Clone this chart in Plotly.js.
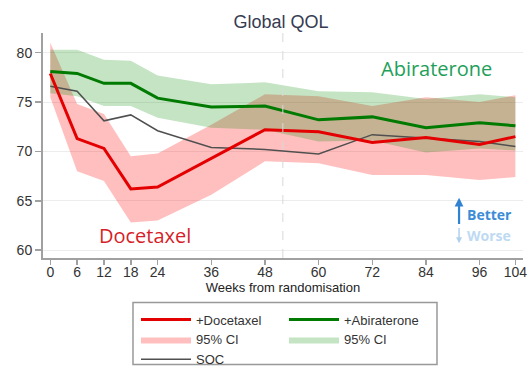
<!DOCTYPE html>
<html>
<head>
<meta charset="utf-8">
<script src="https://cdn.plot.ly/plotly-3.0.1.min.js"></script>
<style>html,body{margin:0;padding:0;background:#fff;}#chart{width:532px;height:383px;}</style>
</head>
<body>
<div id="chart"></div>
<script>
// Weeks from randomisation
const weeks = [0, 6, 12, 18, 24, 36, 48, 60, 72, 84, 96, 104];
const xTickLabels = ['0', '6', '12', '18', '24', '36', '48', '60', '72', '84', '96', '104'];
const yTickValues = [60, 65, 70, 75, 80];

// Mean Global QOL
const docetaxel = [77.9, 71.3, 70.3, 66.2, 66.4, 69.3, 72.2, 72.0, 70.9, 71.4, 70.7, 71.5];
const abiraterone = [78.1, 77.9, 76.9, 76.9, 75.4, 74.5, 74.6, 73.2, 73.5, 72.4, 72.9, 72.6];
const soc = [76.6, 76.1, 73.1, 73.7, 72.1, 70.4, 70.2, 69.75, 71.7, 71.35, 71.0, 70.5];

// 95% confidence intervals
const docUpper = [81.0, 74.8, 73.8, 69.5, 69.8, 72.7, 75.8, 75.6, 74.6, 75.5, 75.0, 75.7];
const docLower = [75.5, 68.0, 67.0, 62.8, 63.0, 65.6, 69.0, 68.8, 67.6, 67.6, 67.1, 67.4];
const abiUpper = [80.3, 80.3, 79.3, 79.2, 77.7, 76.8, 77.0, 76.1, 76.0, 75.3, 75.8, 75.5];
const abiLower = [75.9, 75.6, 74.6, 74.6, 73.4, 72.4, 72.2, 71.0, 71.1, 69.9, 70.3, 70.1];

function band(lo, hi) {
  return {
    x: weeks.concat(weeks.slice().reverse()),
    y: hi.concat(lo.slice().reverse())
  };
}
const docBand = band(docLower, docUpper);
const abiBand = band(abiLower, abiUpper);

const FONT = 'Liberation Sans, Arial, sans-serif';

const traces = [
  {x: docBand.x, y: docBand.y, type: 'scatter', mode: 'lines', fill: 'toself',
   fillcolor: 'rgba(255,0,0,0.25)', line: {width: 0, color: 'rgba(0,0,0,0)'},
   name: '95% CI', legend: 'legend', legendrank: 2, hoverinfo: 'skip'},
  {x: abiBand.x, y: abiBand.y, type: 'scatter', mode: 'lines', fill: 'toself',
   fillcolor: 'rgba(0,140,0,0.23)', line: {width: 0, color: 'rgba(0,0,0,0)'},
   name: '95% CI', legend: 'legend2', legendrank: 2, hoverinfo: 'skip'},
  {x: weeks, y: soc, type: 'scatter', mode: 'lines',
   line: {color: 'rgb(80,80,80)', width: 1.5},
   name: 'SOC', legend: 'legend', legendrank: 3},
  {x: weeks, y: docetaxel, type: 'scatter', mode: 'lines',
   line: {color: 'rgb(228,0,0)', width: 3},
   name: '+Docetaxel', legend: 'legend', legendrank: 1},
  {x: weeks, y: abiraterone, type: 'scatter', mode: 'lines',
   line: {color: 'rgb(0,122,0)', width: 3},
   name: '+Abiraterone', legend: 'legend2', legendrank: 1}
];

const legendCommon = {
  orientation: 'v', xanchor: 'left', yanchor: 'top',
  bgcolor: 'rgba(0,0,0,0)', borderwidth: 0, traceorder: 'normal',
  font: {family: FONT, size: 13, color: '#333'}, itemwidth: 50
};

const layout = {
  width: 532, height: 383,
  margin: {l: 43, r: 9, t: 33, b: 121},
  paper_bgcolor: '#fff', plot_bgcolor: '#fff',
  font: {family: FONT, color: '#333'},
  title: {text: 'Global QOL', x: 281 / 532, xref: 'container', xanchor: 'center',
          y: 1 - 21.5 / 383, yref: 'container', yanchor: 'middle',
          font: {family: FONT, size: 18, color: '#363b52'}},
  xaxis: {
    range: [-1.63, 105.7], tickvals: weeks, ticktext: xTickLabels,
    showgrid: false, zeroline: false, showline: true, linecolor: '#a0a0a0', linewidth: 2,
    ticks: 'outside', ticklen: 5, tickcolor: '#a0a0a0', tickwidth: 1.5,
    ticklabelstandoff: -5,
    tickfont: {family: FONT, size: 14, color: '#333'},
    title: {text: 'Weeks from randomisation', standoff: 0, font: {family: FONT, size: 13, color: '#222'}}
  },
  yaxis: {
    range: [59.2, 82], tickvals: yTickValues,
    showgrid: true, gridcolor: '#ececec', gridwidth: 1, zeroline: false,
    showline: true, linecolor: '#a0a0a0', linewidth: 2,
    ticks: 'outside', ticklen: 6, tickcolor: '#a0a0a0', tickwidth: 1.5,
    tickfont: {family: FONT, size: 14, color: '#333'}
  },
  showlegend: true,
  legend: Object.assign({x: (136 - 43) / 480, y: 1 - (309 - 33) / 228.7}, legendCommon),
  legend2: Object.assign({x: (284 - 43) / 480, y: 1 - (309 - 33) / 228.7}, legendCommon),
  shapes: [
    {type: 'line', xref: 'x', yref: 'paper', x0: 52, x1: 52, y0: 0, y1: 1,
     line: {color: '#d8d8d8', width: 1, dash: 'dash'}},
    {type: 'rect', xref: 'paper', yref: 'paper',
     x0: (133 - 43) / 480, x1: (437 - 43) / 480,
     y0: 1 - (370 - 33) / 228.7, y1: 1 - (307 - 33) / 228.7,
     line: {color: '#999', width: 1.5}, fillcolor: 'rgba(0,0,0,0)'}
  ],
  annotations: [
    {text: 'Abiraterone', x: 86.25, y: 78.4, xref: 'x', yref: 'y', showarrow: false,
     font: {family: 'Open Sans, sans-serif', size: 20, color: 'rgb(30,160,90)'}},
    {text: 'Docetaxel', x: 21.07, y: 61.46, xref: 'x', yref: 'y', showarrow: false,
     font: {family: 'Open Sans, sans-serif', size: 20, color: 'rgb(215,30,40)'}},
    {text: '', x: 91.4, y: 65.3, xref: 'x', yref: 'y', axref: 'x', ayref: 'y',
     ax: 91.4, ay: 62.5, showarrow: true, arrowhead: 2, arrowsize: 0.8, arrowwidth: 2.2,
     arrowcolor: 'rgb(50,130,210)'},
    {text: '', x: 91.4, y: 60.7, xref: 'x', yref: 'y', axref: 'x', ayref: 'y',
     ax: 91.4, ay: 62.4, showarrow: true, arrowhead: 2, arrowsize: 0.8, arrowwidth: 1.5,
     arrowcolor: 'rgb(175,208,238)'},
    {text: '<b>Better</b>', x: 92.7, y: 63.6, xref: 'x', yref: 'y', xanchor: 'left', showarrow: false,
     font: {family: 'Open Sans, sans-serif', size: 14, color: 'rgb(60,140,215)'}},
    {text: '<b>Worse</b>', x: 92.7, y: 61.5, xref: 'x', yref: 'y', xanchor: 'left', showarrow: false,
     font: {family: 'Open Sans, sans-serif', size: 14, color: 'rgb(190,218,243)'}}
  ]
};

Plotly.newPlot('chart', traces, layout, {displayModeBar: false, staticPlot: true});
</script>
</body>
</html>
